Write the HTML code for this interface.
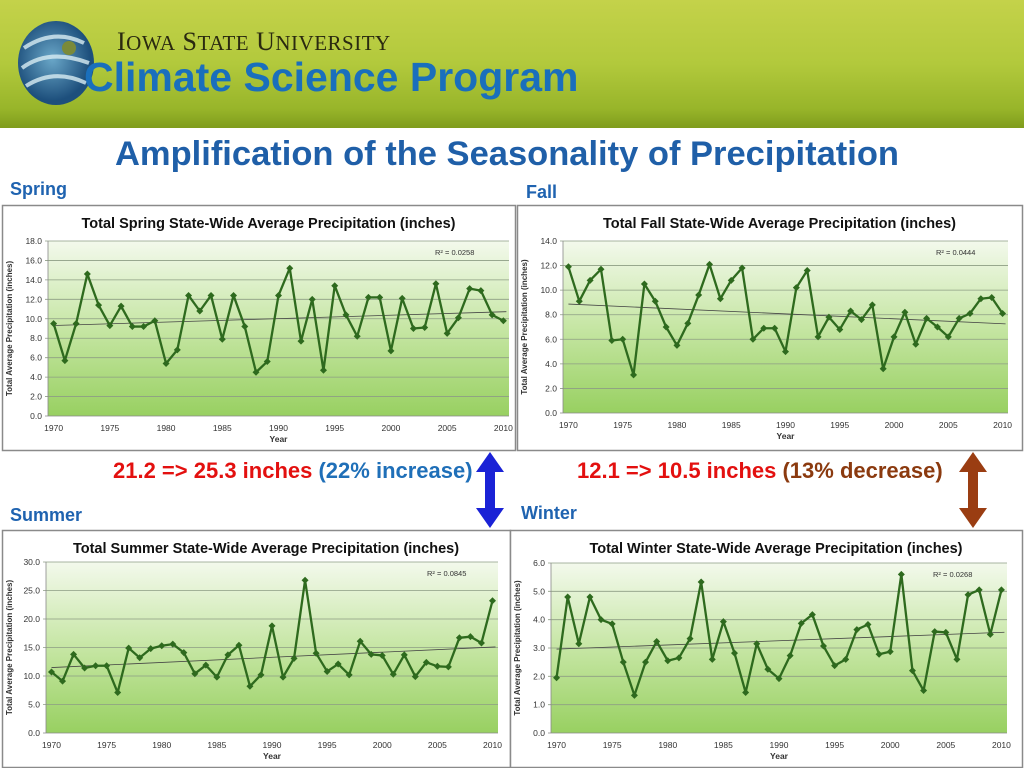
<!DOCTYPE html>
<html><head><meta charset="utf-8">
<style>
body{margin:0;width:1024px;height:768px;overflow:hidden;background:#fff;font-family:"Liberation Sans",sans-serif;position:relative}
.abs{position:absolute;white-space:nowrap}
#header{position:absolute;left:0;top:0;width:1024px;height:128px;background:linear-gradient(#c4d24a,#b2c93c 50%,#98b52a 85%,#7f9c1c)}
.lbl{font-weight:bold;color:#1f63b0;font-size:18px}
.note{font-weight:bold;font-size:22px}
svg text{font-family:"Liberation Sans",sans-serif}
</style></head><body>
<div id="header">
 <svg class="abs" style="left:14px;top:18px" width="86" height="90">
  <defs><radialGradient id="lg" cx="45%" cy="45%"><stop offset="0" stop-color="#6aa7c8"/><stop offset="1" stop-color="#1d4f7c"/></radialGradient></defs>
  <ellipse cx="42" cy="45" rx="38" ry="42" fill="url(#lg)"/>
  <path d="M10 30 Q40 10 70 25 M8 50 Q35 30 75 45 M12 68 Q40 50 72 65" stroke="#d8ecf2" stroke-width="4" fill="none" opacity=".8"/>
  <circle cx="55" cy="30" r="7" fill="#7a8a3a"/>
 </svg>
 <div class="abs" style="left:117px;top:27px;font-family:'Liberation Serif',serif;font-size:26px;color:#2a2a10;letter-spacing:0.5px">I<span style="font-size:21px">OWA</span> S<span style="font-size:21px">TATE</span> U<span style="font-size:21px">NIVERSITY</span></div>
 <div class="abs" style="left:84px;top:54px;font-weight:bold;font-size:41px;color:#1a6fbc">Climate Science Program</div>
</div>
<div class="abs" style="left:0;width:1014px;text-align:center;top:135px;font-weight:bold;font-size:34.5px;color:#1f5fa8">Amplification of the Seasonality of Precipitation</div>
<div class="abs lbl" style="left:10px;top:179px">Spring</div>
<div class="abs lbl" style="left:526px;top:182px">Fall</div>
<div class="abs lbl" style="left:10px;top:505px">Summer</div>
<div class="abs lbl" style="left:521px;top:503px">Winter</div>
<div class="abs note" style="left:113px;top:458px"><span style="color:#e3100f">21.2 =&gt; 25.3 inches </span><span style="color:#1f6fb8">(22% increase)</span></div>
<div class="abs note" style="left:577px;top:458px"><span style="color:#e3100f">12.1 =&gt; 10.5 inches </span><span style="color:#8b3a0f">(13% decrease)</span></div>
<svg class="abs" style="left:474px;top:450px" width="32" height="80"><path d="M16 2 L30 22 L21 22 L21 58 L30 58 L16 78 L2 58 L11 58 L11 22 L2 22 Z" fill="#1a22d6"/></svg>
<svg class="abs" style="left:957px;top:450px" width="32" height="80"><path d="M16 2 L30 22 L21 22 L21 58 L30 58 L16 78 L2 58 L11 58 L11 22 L2 22 Z" fill="#9a3d12"/></svg>
<svg id="charts" class="abs" style="left:0;top:0" width="1024" height="768"></svg>
<script>
const years=[];for(let y=1970;y<=2010;y++)years.push(y);
const xTicks=[1970,1975,1980,1985,1990,1995,2000,2005,2010];
const springValues=[9.5,5.7,9.5,14.6,11.4,9.3,11.3,9.2,9.2,9.8,5.4,6.8,12.4,10.8,12.4,7.9,12.4,9.2,4.5,5.6,12.4,15.2,7.7,12.0,4.7,13.4,10.4,8.2,12.2,12.2,6.7,12.1,9.0,9.1,13.6,8.5,10.1,13.1,12.9,10.4,9.8];
const fallValues=[11.9,9.1,10.8,11.7,5.9,6.0,3.1,10.5,9.1,7.0,5.5,7.3,9.6,12.1,9.3,10.8,11.8,6.0,6.9,6.9,5.0,10.2,11.6,6.2,7.8,6.8,8.3,7.6,8.8,3.6,6.2,8.2,5.6,7.7,7.0,6.2,7.7,8.1,9.3,9.4,8.1];
const summerValues=[10.7,9.1,13.8,11.4,11.8,11.8,7.1,14.9,13.2,14.8,15.3,15.6,14.1,10.4,11.9,9.8,13.7,15.4,8.2,10.2,18.8,9.8,13.1,26.8,14.0,10.8,12.1,10.2,16.1,13.8,13.6,10.3,13.7,9.9,12.4,11.7,11.6,16.7,16.9,15.8,23.2];
const winterValues=[1.95,4.8,3.15,4.8,4.0,3.85,2.5,1.33,2.5,3.23,2.55,2.65,3.33,5.33,2.6,3.93,2.82,1.43,3.15,2.25,1.92,2.73,3.87,4.18,3.07,2.38,2.6,3.65,3.83,2.78,2.87,5.6,2.2,1.5,3.58,3.55,2.6,4.88,5.05,3.48,5.05];
const springTicks=[0,2,4,6,8,10,12,14,16,18];
const fallTicks=[0,2,4,6,8,10,12,14];
const summerTicks=[0,5,10,15,20,25,30];
const winterTicks=[0,1,2,3,4,5,6];
const r2Labels=["R² = 0.0258","R² = 0.0444","R² = 0.0845","R² = 0.0268"];
const titles=["Total Spring State-Wide Average Precipitation (inches)","Total Fall State-Wide Average Precipitation (inches)","Total Summer State-Wide Average Precipitation (inches)","Total Winter State-Wide Average Precipitation (inches)"];

const NS="http://www.w3.org/2000/svg";
const root=document.getElementById('charts');
function mk(tag,attrs,parent){const e=document.createElementNS(NS,tag);for(const k in attrs)e.setAttribute(k,attrs[k]);parent.appendChild(e);return e;}

const defs=mk('defs',{},root);
const grad=mk('linearGradient',{id:'pg',x1:0,y1:0,x2:0,y2:1},defs);
mk('stop',{offset:0,'stop-color':'#f3f9ec'},grad);
mk('stop',{offset:0.5,'stop-color':'#c6e6a4'},grad);
mk('stop',{offset:1,'stop-color':'#98d061'},grad);

function chart(id,box,plot,vals,ticks,title,r2,r2x){
 const g=mk('g',{},root);
 
 
 const frame=mk('rect',{x:box[0]+.5,y:box[1]+.5,width:box[2]-box[0],height:box[3]-box[1],fill:'#fff',stroke:'#8a8a8a','stroke-width':1.5},g);
 
 
 const [L,T,R,B]=plot;
 const ymax=ticks[ticks.length-1];
 const pad=(R-L)/41/2;
 const xs=y=>L+pad+(y-1970)*(R-L-2*pad)/40;
 const ys=v=>B-v/ymax*(B-T);
 const bg=mk('rect',{x:L,y:T,width:R-L,height:B-T,fill:'url(#pg)'},g);
 
 
 ticks.forEach(t=>{
  const ln=mk('line',{x1:L-3,x2:R,y1:ys(t),y2:ys(t),stroke:t===0?'#888':'#8d9d84','stroke-width':.8},g);
  
  
  const tx=mk('text',{x:L-6,y:ys(t)+3,'font-size':8.5,'text-anchor':'end',fill:'#333'},g);
  tx.textContent=t.toFixed(1);
  
  
 });
 mk('line',{x1:L,x2:L,y1:T,y2:B,stroke:'#888','stroke-width':.8},g);
 xTicks.forEach(t=>{
  const tx=mk('text',{x:xs(t),y:B+15,'font-size':8.5,'text-anchor':'middle',fill:'#333'},g);
  tx.textContent=t;
  
  
 });
 const tt=mk('text',{x:(box[0]+box[2])/2+10,y:box[1]+23,'font-size':14.5,'font-weight':'bold','text-anchor':'middle',fill:'#111'},g);
 tt.textContent=title;
 
 
 const xt=mk('text',{x:(L+R)/2,y:B+26,'font-size':8.5,'font-weight':'bold','text-anchor':'middle',fill:'#333'},g);
 xt.textContent='Year';
 
 
 const cy=(T+B)/2, cx=box[0]+10;
 const yt=mk('text',{x:cx,y:cy,'font-size':8,'font-weight':'bold','text-anchor':'middle',fill:'#333',transform:`rotate(-90 ${cx} ${cy})`},g);
 yt.textContent='Total Average Precipitation (inches)';
 
 
 const n=vals.length;let sx=0,sy=0,sxy=0,sxx=0;
 vals.forEach((v,i)=>{sx+=i;sy+=v;sxy+=i*v;sxx+=i*i;});
 const b=(n*sxy-sx*sy)/(n*sxx-sx*sx),a=(sy-b*sx)/n;
 const tr=mk('line',{x1:xs(1970),y1:ys(a),x2:xs(2010)+3,y2:ys(a+b*40.2),stroke:'#444','stroke-width':.8},g);
 
 
 const pl=mk('polyline',{points:vals.map((v,i)=>xs(years[i])+','+ys(v)).join(' '),fill:'none',stroke:'#2e6a1e','stroke-width':2.3,'stroke-linejoin':'round'},g);
 
 
 vals.forEach((v,i)=>{
  const x=xs(years[i]),y=ys(v);
  const d=mk('path',{d:`M${x} ${y-3.5}L${x+3.5} ${y}L${x} ${y+3.5}L${x-3.5} ${y}Z`,fill:'#2e6a1e'},g);
  
  
 });
 const rt=mk('text',{x:r2x,y:T+14,'font-size':7.5,fill:'#333'},g);
 rt.textContent=r2;
 
 
}
chart('spring',[2,205,515,450],[48,241,509,416],springValues,springTicks,titles[0],r2Labels[0],435);
chart('fall',[517,205,1022,450],[563,241,1008,413],fallValues,fallTicks,titles[1],r2Labels[1],936);
chart('summer',[2,530,510,767],[46,562,498,733],summerValues,summerTicks,titles[2],r2Labels[2],427);
chart('winter',[510,530,1022,767],[551,563,1007,733],winterValues,winterTicks,titles[3],r2Labels[3],933);
</script>
</body></html>
